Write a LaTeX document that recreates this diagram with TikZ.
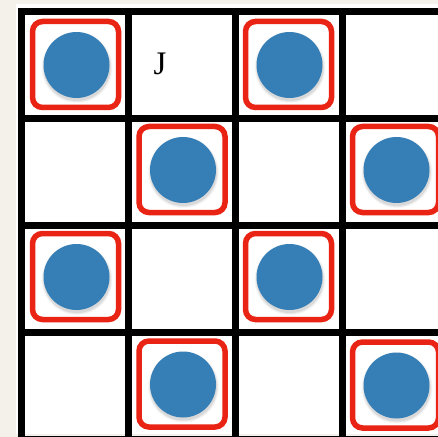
\documentclass[tikz,border=0pt]{standalone}
\usepackage{fontspec}
\setmainfont{Liberation Serif}
\usetikzlibrary{calc}
\definecolor{paper}{RGB}{244,241,235}
\definecolor{dotblue}{RGB}{54,127,182}
\definecolor{boxred}{RGB}{234,36,20}
\tikzset{
  gridline/.style={line width=7bp, black},
  redbox/.style={draw=boxred, line width=5.5bp, rounded corners=10bp, fill=white},
  dot/.style={circle, fill=dotblue, minimum size=66bp, inner sep=0pt},
  shade1/.style={circle, fill=black, inner sep=0pt, opacity=0.05},
}
\newcommand{\cellmark}[3]{% name, x, y
  \node[redbox, minimum size=86bp, inner sep=0pt] (#1box) at (#2,#3) {};
  \foreach \r/\o in {71/0.03,69/0.05,67/0.07}{
    \node[shade1, minimum size=\r bp, opacity=\o] at ($(#2,#3)+(1.5,3)$) {};
  }
  \node[dot] (#1) at ($(#2,#3)+(1,0.5)$) {};
}
\begin{document}
\begin{tikzpicture}[x=1bp,y=-1bp]
\useasboundingbox (0,0) rectangle (438,437);
\fill[paper] (0,0) rectangle (438,437);
\fill[white] (16,4) rectangle (438,434);
\begin{scope}
\clip (16,4) rectangle (438,437);
\foreach \x in {21,128,235,342}{
  \draw[gridline] (\x,8.5) -- (\x,445);
}
\foreach \y in {12,118.7,225.3,332,439}{
  \draw[gridline] (17.5,\y) -- (450,\y);
}
\cellmark{a}{75.5}{64.5}
\cellmark{b}{288.5}{64.5}
\cellmark{c}{182}{169.5}
\cellmark{d}{395.5}{169.5}
\cellmark{e}{75.5}{276.5}
\cellmark{f}{288.5}{276.5}
\cellmark{g}{182}{384}
\cellmark{h}{395.5}{385}
\end{scope}
\node[font=\fontsize{33}{33}\selectfont, inner sep=0pt] (jlabel) at (160,64) {J};
\end{tikzpicture}
\end{document}
